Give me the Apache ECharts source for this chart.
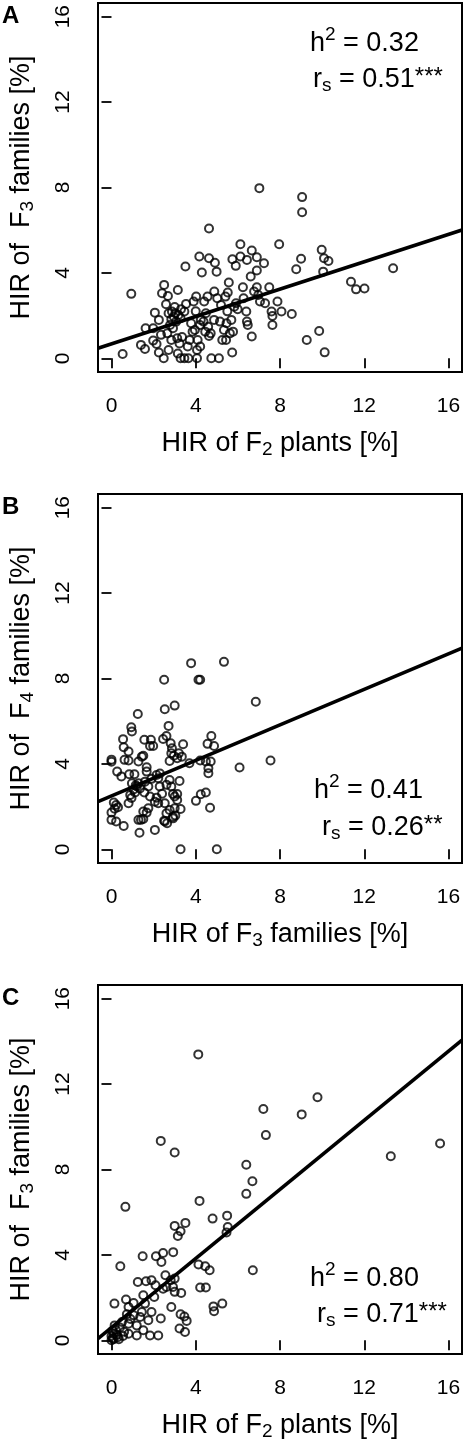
<!DOCTYPE html>
<html>
<head>
<meta charset="utf-8">
<script src="https://cdn.jsdelivr.net/npm/echarts@6/dist/echarts.min.js"></script>
<style>
html,body{margin:0;padding:0;background:#fff;}
#chart{width:465px;height:1443px;}
</style>
</head>
<body>
<div id="chart"></div>
<script>
// ---------- data ----------
const tickValues = [0, 4, 8, 12, 16];
const axisMin = -0.64, axisMax = 16.64;

// Panel A: HIR of F2 plants (x) vs HIR of F3 families (y)
const pointsA = [
[0.53,0.20],[0.94,3.02],[1.40,0.63],[1.59,0.44],[1.62,1.41],[1.98,1.41],[2.06,2.14],[2.25,1.80],[1.98,0.83],[2.14,0.67],
[2.25,0.27],[2.50,3.44],[2.40,3.05],[2.68,2.92],[2.59,2.53],[2.48,0.00],[2.71,0.39],[2.84,0.86],[2.65,1.17],[2.71,2.11],
[2.87,2.19],[3.03,2.11],[3.18,2.03],[2.84,1.83],[3.07,1.72],[2.92,1.41],[3.15,3.20],[3.12,0.94],[3.23,0.70],[3.15,0.23],
[3.28,0.00],[3.46,0.00],[3.51,4.30],[3.54,2.55],[3.65,0.00],[3.62,0.55],[3.71,0.86],[3.78,1.64],[3.85,1.25],[3.96,1.33],
[3.90,2.66],[4.02,2.89],[4.06,0.00],[4.06,0.39],[4.21,0.55],[4.09,0.86],[4.17,4.77],[4.29,4.02],[4.40,2.66],[4.56,2.89],
[4.48,2.11],[4.37,1.72],[4.59,1.48],[4.45,1.25],[4.63,6.08],[4.63,4.69],[4.91,4.48],[4.99,4.06],[4.74,0.00],[5.10,0.00],
[4.88,3.13],[5.02,2.81],[4.87,1.80],[5.15,1.72],[5.26,0.86],[5.44,0.86],[5.34,1.33],[5.46,1.64],[5.41,2.89],[5.52,3.08],
[5.57,3.55],[5.62,1.17],[5.69,1.80],[5.77,1.25],[5.83,2.42],[5.74,4.64],[5.90,4.33],[5.73,0.27],[5.91,2.58],[5.99,2.30],
[6.12,5.34],[6.12,4.77],[6.24,3.33],[6.27,2.81],[6.40,2.19],[6.43,1.72],[6.47,1.56],[6.43,4.61],[6.61,3.83],[6.66,1.02],
[6.66,5.05],[6.77,3.13],[6.90,4.73],[6.90,4.11],[6.90,3.33],[6.97,2.97],[7.05,2.66],[7.02,7.97],[7.24,4.45],[7.29,2.58],
[7.49,3.33],[7.60,2.19],[7.64,1.98],[7.64,1.56],[7.88,2.66],[7.96,5.34],[8.07,2.19],[8.56,2.08],[8.77,4.17],[9.00,4.66],
[9.05,7.55],[9.05,6.84],[9.27,0.86],[9.86,1.28],[9.98,5.08],[10.05,4.06],[10.12,0.28],[10.09,4.69],[10.30,4.56],[11.37,3.59],
[11.61,3.23],[12.01,3.27],[13.37,4.22],[2.96,1.95],[3.28,1.88],[2.78,1.56],[3.46,2.19],[4.24,1.80],[4.20,1.56],[4.71,1.17],
[4.63,1.05],[3.35,1.00],[2.35,1.10],[3.00,2.40],[3.30,2.30],[4.00,2.20],[5.20,2.50],[5.50,2.20]
];
// Panel B: HIR of F3 families (x) vs HIR of F4 families (y)
const pointsB = [
[3.78,8.72],[5.34,8.78],[2.50,7.94],[4.13,7.94],[4.21,7.94],[6.85,6.91],[1.25,6.34],[2.53,6.56],[3.00,6.73],[0.94,5.72],
[0.97,5.52],[0.55,5.16],[0.58,4.78],[0.81,4.58],[1.56,5.13],[1.87,5.13],[1.83,4.84],[1.98,4.84],[2.45,5.17],[2.61,5.31],
[2.71,5.78],[2.81,4.97],[2.87,4.73],[2.84,4.50],[2.96,4.38],[3.12,4.27],[3.34,4.34],[3.40,4.92],[2.76,4.14],[0.00,4.20],
[0.00,4.10],[0.62,4.19],[0.81,4.16],[1.44,4.34],[1.51,4.38],[1.28,4.11],[4.74,5.31],[4.56,4.94],[4.87,4.84],[4.21,4.16],
[4.48,4.11],[4.60,3.80],[4.60,3.56],[6.08,3.83],[7.55,4.16],[0.27,3.64],[0.47,3.41],[0.84,3.52],[1.09,3.52],[1.67,3.84],
[1.67,3.64],[0.97,3.09],[1.20,2.94],[1.12,2.66],[1.28,3.09],[0.89,2.55],[0.81,2.16],[1.59,3.17],[1.75,2.94],[1.56,2.66],
[1.83,2.47],[2.14,3.48],[2.22,3.33],[2.29,2.94],[2.14,2.42],[2.61,3.02],[2.76,3.25],[2.84,2.94],[2.92,2.59],[3.00,2.47],
[3.12,2.59],[3.23,3.20],[2.06,2.23],[2.22,2.16],[2.53,2.16],[2.61,1.69],[2.53,1.30],[2.76,1.84],[2.92,1.53],[3.00,1.92],
[3.28,1.89],[3.12,2.31],[4.01,2.27],[4.24,2.58],[4.48,2.66],[4.68,1.95],[0.11,2.19],[0.22,2.08],[0.31,1.97],[0.00,1.72],
[0.00,1.38],[0.22,1.30],[0.58,1.09],[1.33,0.78],[1.28,1.38],[1.40,1.38],[1.51,1.42],[1.51,1.77],[1.67,1.72],[1.75,1.92],
[2.06,0.91],[2.50,1.34],[2.64,1.22],[2.92,1.45],[3.03,1.58],[3.28,0.00],[5.00,0.00],[3.70,4.03],[4.71,4.11],[1.05,2.80],
[1.15,3.00],[1.35,2.85],[0.95,2.40],[2.40,2.60],[1.90,3.30],[3.20,4.50],[0.15,1.90],[2.30,3.55]
];
// Panel C: HIR of F2 plants (x) vs HIR of F3 families (y)
const pointsC = [
[4.12,13.39],[9.78,11.38],[7.21,10.83],[7.33,9.61],[9.03,10.58],[2.34,9.34],[3.00,8.80],[6.40,8.22],[6.69,7.45],[6.40,6.86],
[0.66,6.25],[4.18,6.53],[4.80,5.70],[5.49,5.84],[5.52,5.31],[5.46,5.05],[3.00,5.36],[3.51,5.50],[3.28,5.11],[3.15,4.89],
[1.48,3.94],[2.11,3.94],[2.45,4.09],[2.37,3.67],[2.93,4.13],[0.42,3.47],[6.71,3.28],[4.13,3.55],[4.45,3.47],[4.66,3.28],
[1.25,2.73],[1.64,2.77],[1.90,2.81],[2.09,2.58],[2.56,3.05],[2.81,2.81],[3.00,2.89],[2.61,2.50],[2.45,2.42],[3.00,2.27],
[3.31,2.22],[2.92,2.50],[4.21,2.47],[4.48,2.47],[1.51,2.11],[2.03,2.03],[1.59,1.72],[0.14,1.72],[0.69,1.91],[1.05,1.75],
[0.81,1.56],[2.84,1.56],[3.28,1.22],[3.46,1.12],[3.57,0.91],[4.84,1.59],[4.87,1.36],[5.26,1.72],[1.44,1.33],[1.90,1.33],
[2.34,1.02],[0.73,1.22],[1.05,1.17],[1.36,1.09],[1.75,0.94],[3.23,0.55],[3.49,0.39],[1.83,0.23],[2.22,0.23],[1.51,0.47],
[1.20,0.70],[0.81,0.78],[0.50,0.86],[0.81,0.31],[1.20,0.23],[15.60,9.22],[13.26,8.62],[0.00,0.00],[0.05,0.10],[0.10,0.30],
[0.20,0.50],[0.30,0.15],[0.15,0.70],[0.05,0.45],[0.25,0.25],[0.40,0.60],[0.00,0.20],[0.60,0.40],[0.90,1.00],[0.35,0.05],
[0.10,0.05],[0.55,0.20]
];
// fitted regression lines, read at the plot edges
const lineA = [[-0.64, 0.47], [16.64, 6.01]];
const lineB = [[-0.64, 2.23], [16.64, 9.42]];
const lineC = [[-0.64, 0.08], [16.64, 14.06]];

const panelLabels = ['A', 'B', 'C'];
const xTitles = [['HIR of F', '2', ' plants [%]'], ['HIR of F', '3', ' families [%]'], ['HIR of F', '2', ' plants [%]']];
const yTitles = [['HIR of  F', '3', ' families [%]'], ['HIR of  F', '4', ' families [%]'], ['HIR of  F', '3', ' families [%]']];
const h2Values = ['0.32', '0.41', '0.80'];
const rsValues = ['0.51', '0.26', '0.71'];
const rsStars = ['***', '**', '***'];

// ---------- layout ----------
const FONT = '"Liberation Sans", Arial, Helvetica, sans-serif';
const gridTops = [3, 494, 985];
const gridLeft = 92, gridW = 370, gridH = 369;
const annot = [
  {hx: 310, hy: 63, rx: 313, ry: 95},
  {hx: 314, hy: 810, rx: 322, ry: 843},
  {hx: 310, hy: 1298, rx: 317, ry: 1330}
];

const richTitle = {
  a: {fontSize: 27, fontFamily: FONT, color: '#000', lineHeight: 31},
  sub: {fontSize: 19, fontFamily: FONT, color: '#000', lineHeight: 19, verticalAlign: 'bottom'}
};
const richH = {
  a: {fontSize: 27, fontFamily: FONT, color: '#000', lineHeight: 38},
  sup: {fontSize: 19, fontFamily: FONT, color: '#000', lineHeight: 19, verticalAlign: 'top'}
};
const richR = {
  a: {fontSize: 27, fontFamily: FONT, color: '#000', lineHeight: 30},
  star: {fontSize: 24, fontFamily: FONT, color: '#000', lineHeight: 18, verticalAlign: 'top'},
  sub: {fontSize: 19, fontFamily: FONT, color: '#000', lineHeight: 19, verticalAlign: 'bottom'}
};

const grids = [], xAxes = [], yAxes = [], series = [], graphics = [];
const allPoints = [pointsA, pointsB, pointsC];
const allLines = [lineA, lineB, lineC];

for (let i = 0; i < 3; i++) {
  grids.push({left: gridLeft, top: gridTops[i], width: gridW, height: gridH,
    show: true, borderColor: '#000', borderWidth: 2, backgroundColor: 'transparent'});
  const common = {
    gridIndex: i, type: 'value', min: axisMin, max: axisMax,
    axisLine: {show: false}, splitLine: {show: false},
    axisTick: {show: true, length: 10, lineStyle: {color: '#000', width: 1.8}, customValues: tickValues},
    nameLocation: 'middle'
  };
  xAxes.push(Object.assign({}, common, {
    axisLabel: {customValues: tickValues, fontSize: 21, fontFamily: FONT, color: '#000', margin: 24},
    name: '{a|' + xTitles[i][0] + '}{sub|' + xTitles[i][1] + '}{a|' + xTitles[i][2] + '}',
    nameGap: 56, nameTextStyle: {rich: richTitle}
  }));
  yAxes.push(Object.assign({}, common, {
    axisLabel: {customValues: tickValues, fontSize: 21, fontFamily: FONT, color: '#000', margin: 24, rotate: 90},
    name: '{a|' + yTitles[i][0] + '}{sub|' + yTitles[i][1] + '}{a|' + yTitles[i][2] + '}',
    nameGap: 61, nameTextStyle: {rich: richTitle}
  }));
  series.push({
    type: 'scatter', xAxisIndex: i, yAxisIndex: i, data: allPoints[i],
    symbol: 'circle', symbolSize: 8, clip: true,
    itemStyle: {color: 'rgba(0,0,0,0)', borderColor: '#000', borderWidth: 2},
    emphasis: {disabled: true}, silent: true
  });
  series.push({
    type: 'line', xAxisIndex: i, yAxisIndex: i, data: allLines[i],
    symbol: 'none', clip: true, silent: true,
    lineStyle: {color: '#000', width: 3.6}
  });
  graphics.push({type: 'text', x: 2, y: gridTops[i] + 1,
    style: {text: panelLabels[i], font: 'bold 24px ' + FONT, fill: '#000', verticalAlign: 'top'}});
  graphics.push({type: 'text', x: annot[i].hx, y: annot[i].hy,
    style: {text: '{a|h}{sup|2}{a| = ' + h2Values[i] + '}', rich: richH, verticalAlign: 'bottom', fill: '#000'}});
  graphics.push({type: 'text', x: annot[i].rx, y: annot[i].ry,
    style: {text: '{a|r}{sub|s}{a| = ' + rsValues[i] + '}{star|' + rsStars[i] + '}', rich: richR, verticalAlign: 'bottom', fill: '#000'}});
}

const chart = echarts.init(document.getElementById('chart'), null, {renderer: 'canvas'});
chart.setOption({
  animation: false,
  backgroundColor: '#fff',
  grid: grids, xAxis: xAxes, yAxis: yAxes, series: series, graphic: graphics
});
</script>
</body>
</html>
